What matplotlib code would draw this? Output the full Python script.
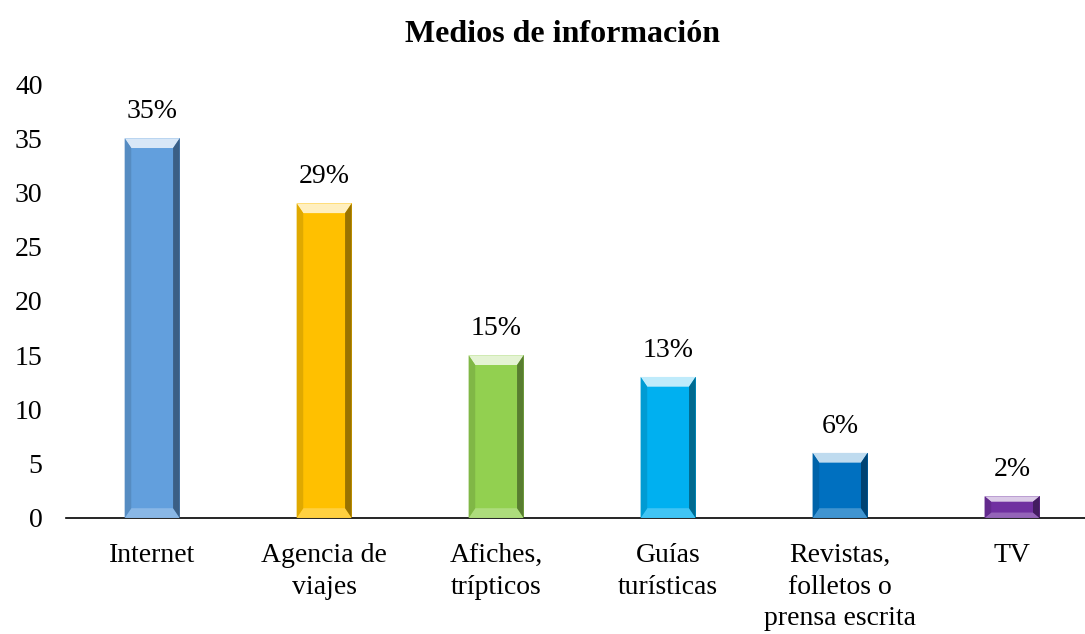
import matplotlib
matplotlib.use("Agg")
import matplotlib.pyplot as plt
from matplotlib.patches import Polygon
import matplotlib.colors as mcolors

categorias = ["Internet", "Agencia de\nviajes", "Afiches,\ntrípticos", "Guías\nturísticas",
              "Revistas,\nfolletos o\nprensa escrita", "TV"]
valores = [35, 29, 15, 13, 6, 2]
etiquetas = ["35%", "29%", "15%", "13%", "6%", "2%"]
colores = ["#629FDD", "#FFC000", "#92D050", "#00B0F0", "#0070C0", "#7030A0"]

plt.rcParams['font.family'] = ['Liberation Serif', 'DejaVu Serif']

fig = plt.figure(figsize=(10.85, 6.34), dpi=100)
ax = fig.add_axes([0.061, 0.183, 0.939, 0.6845])

x = list(range(len(valores)))
bars = ax.bar(x, valores, width=0.32, color=colores, zorder=2)

# efecto bisel
for b, c in zip(bars, colores):
    x0, w, h = b.get_x(), b.get_width(), b.get_height()
    x1 = x0 + w
    rgb = mcolors.to_rgb(c)
    light = tuple(v + (1 - v) * 0.75 for v in rgb)
    light2 = tuple(v + (1 - v) * 0.25 for v in rgb)
    dark = tuple(v * 0.6 for v in rgb)
    dark2 = tuple(v * 0.88 for v in rgb)
    d = w * 0.12
    dy = min(0.9, h * 0.25)
    # top
    ax.add_patch(Polygon([(x0, h), (x1, h), (x1 - d, h - dy), (x0 + d, h - dy)],
                         closed=True, color=light, lw=0, zorder=3))
    # bottom
    ax.add_patch(Polygon([(x0, 0), (x1, 0), (x1 - d, dy), (x0 + d, dy)],
                         closed=True, color=light2, lw=0, zorder=3))
    # right side
    ax.add_patch(Polygon([(x1, 0), (x1, h), (x1 - d, h - dy), (x1 - d, dy)],
                         closed=True, color=dark, lw=0, zorder=3))
    # left side
    ax.add_patch(Polygon([(x0, 0), (x0, h), (x0 + d, h - dy), (x0 + d, dy)],
                         closed=True, color=dark2, lw=0, zorder=3))

for xi, v, t in zip(x, valores, etiquetas):
    ax.annotate(t, (xi, v), xytext=(0, 10), textcoords="offset points",
                ha="center", va="bottom", fontsize=20)

ax.set_xlim(-0.5, 5.424)
ax.set_ylim(0, 40)
ax.set_yticks(range(0, 41, 5))
ax.set_xticks(x)
ax.set_xticklabels(categorias, fontsize=20, linespacing=1.35, va="top")
ax.tick_params(axis="y", length=0, labelsize=20, pad=17)
ax.tick_params(axis="x", length=0, pad=18)
for s in ["top", "right", "left"]:
    ax.spines[s].set_visible(False)
ax.spines["bottom"].set_linewidth(1.2)

fig.text(0.518, 0.945, "Medios de información", ha="center", va="center",
         fontsize=23, fontweight="bold")

fig.savefig("out.png", dpi=100)
